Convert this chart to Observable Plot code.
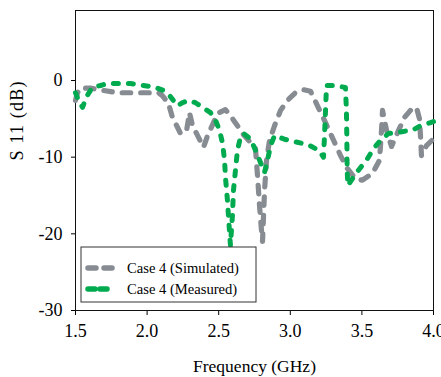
<!DOCTYPE html>
<html>
<head>
<meta charset="utf-8">
<script src="https://cdn.jsdelivr.net/npm/d3@7"></script>
<script src="https://cdn.jsdelivr.net/npm/@observablehq/plot@0.6"></script>
<style>
  html, body { margin: 0; padding: 0; background: #fff; }
  #chart svg, #chart svg text { font-family: "Liberation Serif", "Times New Roman", serif !important; }
</style>
</head>
<body>
<div id="chart"></div>
<script>
// Simulated S11 (gray)
const simFreq = [1.500, 1.514, 1.535, 1.605, 1.696, 1.793, 1.919, 2.080, 2.108, 2.149, 2.177, 2.212, 2.233, 2.275, 2.296, 2.317, 2.345, 2.394, 2.422, 2.464, 2.492, 2.547, 2.582, 2.631, 2.666, 2.722, 2.757, 2.771, 2.785, 2.799, 2.806, 2.820, 2.834, 2.855, 2.890, 2.932, 2.980, 3.036, 3.092, 3.141, 3.190, 3.246, 3.302, 3.351, 3.399, 3.455, 3.504, 3.574, 3.623, 3.637, 3.644, 3.672, 3.707, 3.756, 3.798, 3.839, 3.881, 3.902, 3.909, 3.916, 3.951, 4.000];
const simDb   = [-2.6, -1.6, -1.0, -1.0, -1.3, -1.6, -1.6, -1.6, -2.0, -3.0, -4.8, -6.1, -6.9, -6.6, -4.2, -5.9, -6.9, -8.7, -7.2, -5.5, -4.3, -3.8, -4.6, -5.9, -6.9, -8.1, -8.9, -12.4, -16.3, -19.6, -21.0, -14.4, -10.4, -7.8, -5.9, -3.9, -2.6, -1.6, -1.2, -1.4, -3.3, -5.5, -7.8, -9.8, -11.5, -12.8, -13.0, -12.1, -10.4, -6.5, -3.9, -6.5, -8.6, -6.5, -4.8, -3.9, -3.5, -5.0, -7.2, -9.8, -8.5, -7.6];

// Measured S11 (green)
const measFreq = [1.500, 1.521, 1.549, 1.577, 1.619, 1.675, 1.723, 1.814, 1.884, 1.975, 2.059, 2.115, 2.149, 2.184, 2.212, 2.247, 2.289, 2.338, 2.387, 2.443, 2.478, 2.506, 2.527, 2.541, 2.547, 2.561, 2.568, 2.575, 2.582, 2.596, 2.603, 2.617, 2.631, 2.652, 2.673, 2.722, 2.757, 2.792, 2.820, 2.841, 2.862, 2.890, 2.967, 3.036, 3.127, 3.197, 3.232, 3.239, 3.246, 3.253, 3.302, 3.385, 3.392, 3.395, 3.397, 3.402, 3.434, 3.476, 3.532, 3.581, 3.630, 3.686, 3.749, 3.804, 3.853, 3.909, 3.979, 4.000];
const measDb   = [-1.6, -2.6, -3.5, -2.1, -0.9, -0.65, -0.4, -0.4, -0.4, -0.65, -0.9, -1.3, -1.8, -2.6, -3.3, -2.9, -2.6, -2.9, -3.5, -4.2, -5.2, -6.5, -8.2, -10.4, -12.6, -15.6, -17.6, -19.6, -21.5, -17.6, -14.4, -11.7, -9.1, -7.4, -6.9, -7.6, -9.1, -10.7, -12.0, -10.4, -8.5, -7.2, -7.7, -8.0, -8.4, -9.1, -10.0, -7.2, -3.9, -0.65, -0.65, -0.9, -3.9, -7.8, -11.7, -13.7, -12.8, -11.7, -10.4, -8.9, -7.8, -6.9, -6.8, -6.6, -6.5, -5.9, -5.5, -5.35];

const seriesNames = ["Case 4 (Simulated)", "Case 4 (Measured)"];
const seriesColors = ["#878b92", "#00aa4f"];

const xTicks = [1.5, 2.0, 2.5, 3.0, 3.5, 4.0];
const xTickLabels = ["1.5", "2.0", "2.5", "3.0", "3.5", "4.0"];
const yTicks = [0, -10, -20, -30];
const yTickLabels = ["0", "-10", "-20", "-30"];
const xTitle = "Frequency (GHz)";
const yTitle = "S 11 (dB)";

const sim = simFreq.map((f, i) => ({ f, db: simDb[i] }));
const meas = measFreq.map((f, i) => ({ f, db: measDb[i] }));

const font = "Liberation Serif, Times New Roman, serif";

const chart = Plot.plot({
  width: 441,
  height: 377,
  marginLeft: 75,
  marginRight: 8,
  marginTop: 10,
  marginBottom: 67,
  style: "font-family: Liberation Serif, serif; font-size: 18px; color: #000; background: #fff; overflow: visible;",
  x: { domain: [1.5, 4.0], ticks: xTicks, tickFormat: d => xTickLabels[xTicks.indexOf(d)], tickSize: 5, tickPadding: 9, label: null },
  y: { domain: [-30, 9.13], ticks: yTicks, tickFormat: d => yTickLabels[yTicks.indexOf(d)], tickSize: 4, tickPadding: 9, label: null },
  marks: [
    Plot.frame({ stroke: "#111", strokeWidth: 1 }),
    Plot.line(sim, { x: "f", y: "db", stroke: seriesColors[0], strokeWidth: 5.2, strokeDasharray: "8.5,10", strokeLinecap: "round", strokeLinejoin: "round" }),
    Plot.line(meas, { x: "f", y: "db", stroke: seriesColors[1], strokeWidth: 5, strokeDasharray: "5,10", strokeLinecap: "round", strokeLinejoin: "round" }),
    Plot.text([xTitle], { text: d => d, frameAnchor: "bottom", dy: 61, fontSize: 17.5, fill: "#000" }),
    Plot.text([yTitle], { text: d => d, frameAnchor: "left", dx: -58, rotate: -90, fontSize: 18, fill: "#000" })
  ]
});

const svg = d3.select(chart);
svg.style("font-family", font).style("font-size", "18px");
// slightly spaced y title, as in the reference
svg.selectAll("text").filter(function () { return this.textContent === yTitle; }).style("letter-spacing", "1.2px");

// Legend box (inside plot, bottom-left)
const lg = svg.append("g").attr("font-family", font).attr("font-size", 14.6).attr("text-anchor", "start");
lg.append("rect").attr("x", 81).attr("y", 247).attr("width", 175).attr("height", 55)
  .attr("fill", "#fff").attr("stroke", "#333").attr("stroke-width", 1);
const legendDash = ["8,8", "7,5"];
seriesNames.forEach((name, i) => {
  const cy = 268 + i * 21;
  lg.append("line").attr("x1", 88).attr("x2", i === 0 ? 114 : 111).attr("y1", cy).attr("y2", cy)
    .attr("stroke", seriesColors[i]).attr("stroke-width", 5.5)
    .attr("stroke-dasharray", legendDash[i]).attr("stroke-linecap", "round");
  lg.append("text").attr("x", 127).attr("y", cy).attr("dy", "0.35em").attr("text-anchor", "start")
    .attr("fill", "#000").style("font-size", "14.6px").text(name);
});

document.getElementById("chart").appendChild(chart);
</script>
</body>
</html>
